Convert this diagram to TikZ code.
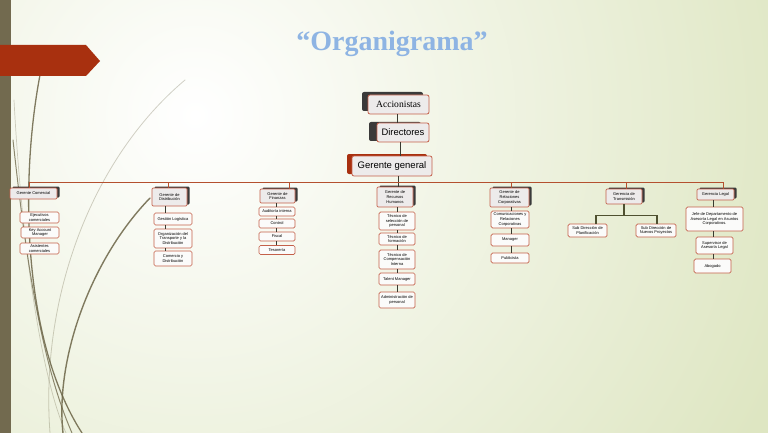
\documentclass[tikz,border=0pt]{standalone}
\usepackage{fontspec}
\setmainfont{Liberation Serif}
\newfontfamily\sansf{Liberation Sans}
\usetikzlibrary{shadows}
\definecolor{bggreen}{HTML}{DEE6C2}
\definecolor{barolive}{HTML}{726A4F}
\definecolor{tabred}{HTML}{A8300F}
\definecolor{titleblue}{HTML}{8EB4E3}
\definecolor{boxred}{HTML}{C4604A}
\definecolor{boxfill}{HTML}{EDEBEB}
\definecolor{leaffill}{HTML}{FBFBFA}
\definecolor{shadowdark}{HTML}{3A3A3A}
\definecolor{conndark}{HTML}{3A3A30}
\definecolor{busred}{HTML}{B4502F}
\definecolor{wispc}{HTML}{6B6446}
\definecolor{transconn}{HTML}{4F5030}
\newcommand{\tinyf}{\sansf\fontsize{4}{4.8}\selectfont}
\tikzset{
  topbox/.style={draw=boxred, line width=0.8pt, rounded corners=2pt, fill=boxfill, inner sep=0pt, align=center},
  mgrbox/.style={draw=boxred, line width=0.7pt, rounded corners=1.2pt, fill=boxfill, font=\tinyf, inner sep=0pt, align=center,
     drop shadow={shadow xshift=2.5pt, shadow yshift=1.5pt, fill=shadowdark, opacity=1}},
  leafbox/.style={draw=boxred, line width=0.7pt, rounded corners=1.5pt, fill=leaffill, font=\tinyf, inner sep=0pt, align=center},
  conn/.style={draw=conndark, line width=0.9pt},
  busline/.style={draw=busred, line width=0.8pt},
  wisp/.style={draw=wispc, line cap=round},
}
\begin{document}
\begin{tikzpicture}[x=1pt,y=-1pt]
\useasboundingbox (0,0) rectangle (768,433);
% background
\fill[bggreen] (0,0) rectangle (768,433);
\begin{scope}
  \clip (0,0) rectangle (768,433);
  \shade[inner color=white, outer color=bggreen] (195,115) circle (640pt);
  % wisps
  \draw[wisp, line width=0.8pt, opacity=0.3] (185,80) .. controls (90,160) and (40,300) .. (50,433);
  \draw[wisp, line width=0.7pt, opacity=0.3] (14,100) .. controls (22,250) and (42,380) .. (66,433);
  \draw[wisp, line width=1.3pt, opacity=0.85] (40,75) .. controls (20,180) and (22,340) .. (82,433);
  \draw[wisp, line width=1.0pt, opacity=0.75] (13,140) .. controls (25,250) and (40,360) .. (72,433);
  \draw[wisp, line width=1.4pt, opacity=0.85] (150,198) .. controls (90,260) and (55,360) .. (63,433);
\end{scope}
\fill[barolive] (0,0) rectangle (11,433);
\fill[tabred] (0,45) -- (86,45) -- (100,61) -- (86,76) -- (0,76) -- cycle;
% title
\node[font=\bfseries\fontsize{28}{30}\selectfont, text=titleblue, anchor=base, inner sep=0pt] (title) at (392,51) {“Organigrama”};

% top levels
\node[topbox, minimum width=61pt, minimum height=19pt, font=\fontsize{9.6}{11}\selectfont,
  drop shadow={shadow xshift=-6pt, shadow yshift=3pt, fill=shadowdark, opacity=1}] (acc) at (398.5,104.5) {Accionistas};
\node[topbox, minimum width=52pt, minimum height=19pt, font=\sansf\fontsize{9.4}{11}\selectfont,
  drop shadow={shadow xshift=-8pt, shadow yshift=1pt, fill=shadowdark, opacity=1}] (dir) at (403,132.5) {Directores};
\node[topbox, minimum width=80pt, minimum height=20pt, font=\sansf\fontsize{9.5}{11}\selectfont,
  drop shadow={shadow xshift=-5pt, shadow yshift=2pt, fill=tabred, opacity=1}] (gg) at (392,166) {Gerente general};

% managers
\node[mgrbox, minimum width=47pt, minimum height=11pt] (com) at (33.5,193.5) {Gerente Comercial};
\node[mgrbox, minimum width=35pt, minimum height=18pt] (dis) at (169.5,197) {Gerente de\\Distribución};
\node[mgrbox, minimum width=35pt, minimum height=14pt] (fin) at (277.5,196) {Gerente de\\Finanzas};
\node[mgrbox, minimum width=36pt, minimum height=20pt] (rh) at (395,197) {Gerente de\\Recursos\\Humanos};
\node[mgrbox, minimum width=39pt, minimum height=19pt] (rc) at (509.5,197.5) {Gerente de\\Relaciones\\Corporativas};
\node[mgrbox, minimum width=36pt, minimum height=15pt] (tra) at (624,196.5) {Gerencia de\\Transmisión};
\node[mgrbox, minimum width=37pt, minimum height=11pt] (leg) at (715.5,194.5) {Gerencia Legal};

% leaves: comercial
\node[leafbox, minimum width=39pt, minimum height=11pt] (c1) at (39.5,217.5) {Ejecutivos\\comerciales};
\node[leafbox, minimum width=38pt, minimum height=11pt] (c2) at (40,232.5) {Key Account\\Manager};
\node[leafbox, minimum width=39pt, minimum height=11pt] (c3) at (39.5,248.5) {Asistentes\\comerciales};
% distribucion
\node[leafbox, minimum width=38pt, minimum height=12pt] (d1) at (173,219) {Gestión Logística};
\node[leafbox, minimum width=38pt, minimum height=19pt] (d2) at (173,238.5) {Organización del\\Transporte y la\\Distribución};
\node[leafbox, minimum width=38pt, minimum height=15pt] (d3) at (173,258.5) {Comercio y\\Distribución};
% finanzas
\node[leafbox, minimum width=36pt, minimum height=9pt] (f1) at (277,211.5) {Auditoría interna};
\node[leafbox, minimum width=36pt, minimum height=9pt] (f2) at (277,223.5) {Control};
\node[leafbox, minimum width=36pt, minimum height=9pt] (f3) at (277,236.5) {Fiscal};
\node[leafbox, minimum width=36pt, minimum height=9pt] (f4) at (277,250) {Tesorería};
% recursos humanos
\node[leafbox, minimum width=36pt, minimum height=18pt] (r1) at (397,221) {Técnico de\\selección de\\personal};
\node[leafbox, minimum width=36pt, minimum height=12pt] (r2) at (397,239) {Técnico de\\formación};
\node[leafbox, minimum width=36pt, minimum height=19pt] (r3) at (397,259.5) {Técnico de\\Compensación\\Interna};
\node[leafbox, minimum width=36pt, minimum height=12pt] (r4) at (397,279) {Talent Manager};
\node[leafbox, minimum width=36pt, minimum height=16pt] (r5) at (397,300) {Administración de\\personal};
% relaciones corporativas
\node[leafbox, minimum width=38pt, minimum height=17pt] (k1) at (510,219.5) {Comunicaciones y\\Relaciones\\Corporativas};
\node[leafbox, minimum width=38pt, minimum height=12pt] (k2) at (510,240) {Manager};
\node[leafbox, minimum width=38pt, minimum height=10pt] (k3) at (510,258) {Publicista};
% transmision
\node[leafbox, minimum width=39pt, minimum height=13pt] (t1) at (587.5,230.5) {Sub Dirección de\\Planificación};
\node[leafbox, minimum width=40pt, minimum height=13pt] (t2) at (656,230.5) {Sub Dirección de\\Nuevos Proyectos};
% legal
\node[leafbox, minimum width=57pt, minimum height=24pt] (l1) at (714.5,219) {Jefe de Departamento de\\Asesoría Legal en Asuntos\\Corporativos.};
\node[leafbox, minimum width=37pt, minimum height=17pt] (l2) at (714.5,245.5) {Supervisor de\\Asesoría Legal};
\node[leafbox, minimum width=37pt, minimum height=14pt] (l3) at (712.5,266) {Abogado};

% connectors top
\draw[conn] ([xshift=-1.5pt]acc.south) -- ([xshift=-1.5pt]acc.south |- dir.north);
\draw[conn] ([xshift=-3pt]dir.south) -- ([xshift=-3pt]dir.south |- gg.north);
\draw[conn] ([xshift=6pt]gg.south) -- ([xshift=6pt]gg.south |- rh.north);
% bus
\coordinate (busL) at (29,182);
\coordinate (legdrop) at ([xshift=7.5pt]leg.north);
\draw[busline] ([xshift=-4.5pt]com.north) -- (busL) -- (busL -| legdrop) -- (legdrop);
\draw[busline] ([xshift=-1.5pt]dis.north) -- ([xshift=-1.5pt]dis.north |- busL);
\draw[busline] ([xshift=11.5pt]fin.north) -- ([xshift=11.5pt]fin.north |- busL);
\draw[busline] ([xshift=1.5pt]rc.north) -- ([xshift=1.5pt]rc.north |- busL);
\draw[busline] ([xshift=2pt]tra.north) -- ([xshift=2pt]tra.north |- busL);

% distribucion chain
\draw[conn] ([xshift=-4.5pt]dis.south) -- ([xshift=-8pt]d1.north);
\draw[conn] ([xshift=-8pt]d1.south) -- ([xshift=-8pt]d2.north);
\draw[conn] ([xshift=-8pt]d2.south) -- ([xshift=-8pt]d3.north);
% finanzas chain
\draw[conn] ([xshift=-1.5pt]fin.south) -- ([xshift=-1pt]f1.north);
\draw[conn] ([xshift=-1pt]f1.south) -- ([xshift=-1pt]f2.north);
\draw[conn] ([xshift=-1pt]f2.south) -- ([xshift=-1pt]f3.north);
\draw[conn] ([xshift=-1pt]f3.south) -- ([xshift=-1pt]f4.north);
% rh chain
\draw[conn] ([xshift=2pt]rh.south) -- (r1.north);
\draw[conn] (r1.south) -- (r2.north);
\draw[conn] (r2.south) -- (r3.north);
\draw[conn] (r3.south) -- (r4.north);
\draw[conn] (r4.south) -- (r5.north);
% rc chain
\draw[conn] ([xshift=1.5pt]rc.south) -- ([xshift=1pt]k1.north);
\draw[conn] ([xshift=1pt]k1.south) -- ([xshift=1pt]k2.north);
\draw[conn] ([xshift=1pt]k2.south) -- ([xshift=1pt]k3.north);
% transmision tree
\coordinate (tj) at ([yshift=-11pt]tra.south);
\draw[draw=transconn, line width=1.2pt] (tra.south) -- (tj);
\draw[draw=transconn, line width=1.2pt] ([xshift=8.5pt]t1.north) |- (tj) -| ([xshift=1pt]t2.north);
% legal chain
\draw[conn] ([xshift=-2.5pt]leg.south) -- ([xshift=-1.5pt]l1.north);
\draw[conn] ([xshift=-1.5pt]l1.south) -- ([xshift=-1.5pt]l2.north);
\draw[conn] ([xshift=-1.5pt]l2.south) -- ([xshift=0.5pt]l3.north);
\end{tikzpicture}
\end{document}
